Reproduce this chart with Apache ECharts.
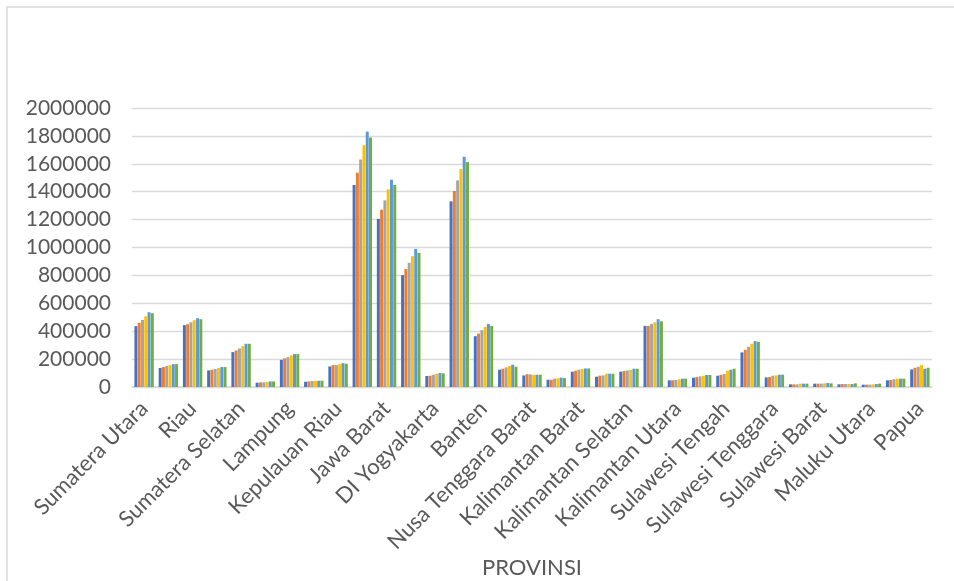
<!DOCTYPE html>
<html>
<head>
<meta charset="utf-8">
<script src="https://cdn.jsdelivr.net/npm/echarts@6/dist/echarts.min.js"></script>
<style>
html,body{margin:0;padding:0;background:#fff;}
#chart{width:954px;height:581px;}
</style>
</head>
<body>
<div id="chart"></div>
<script>
const provinces = ["Sumatera Utara","Sumatera Barat","Riau","Jambi","Sumatera Selatan","Bengkulu","Lampung","Kepulauan Bangka Belitung","Kepulauan Riau","DKI Jakarta","Jawa Barat","Jawa Tengah","DI Yogyakarta","Jawa Timur","Banten","Bali","Nusa Tenggara Barat","Nusa Tenggara Timur","Kalimantan Barat","Kalimantan Tengah","Kalimantan Selatan","Kalimantan Timur","Kalimantan Utara","Sulawesi Utara","Sulawesi Tengah","Sulawesi Selatan","Sulawesi Tenggara","Gorontalo","Sulawesi Barat","Maluku","Maluku Utara","Papua Barat","Papua"];
const seriesNames = ["2015","2016","2017","2018","2019","2020"];
const s1 = [436000,136000,443000,119000,250000,31000,195000,38000,148000,1448000,1205000,802000,79000,1331000,364000,124000,83000,52000,110000,74000,110000,438000,48000,67000,81000,248000,69000,19000,24000,19000,17000,48000,126000];
const s2 = [460000,143000,450000,124000,262000,33000,205000,40000,157000,1536000,1271000,845000,81000,1405000,383000,131000,92000,52000,117000,81000,114000,438000,48000,71000,88000,267000,71000,19000,24000,21000,17000,50000,138000];
const s3 = [481000,150000,464000,129000,276000,33000,214000,43000,157000,1631000,1338000,890000,88000,1481000,407000,140000,90000,60000,124000,83000,119000,452000,50000,76000,93000,288000,81000,19000,24000,21000,17000,55000,145000];
const s4 = [507000,157000,479000,136000,293000,36000,226000,43000,164000,1733000,1417000,938000,95000,1562000,431000,150000,86000,62000,129000,95000,124000,464000,55000,81000,117000,310000,83000,24000,26000,21000,19000,60000,157000];
const s5 = [536000,164000,493000,143000,310000,40000,236000,45000,171000,1831000,1486000,990000,100000,1650000,452000,160000,88000,67000,133000,95000,131000,486000,60000,86000,124000,329000,88000,24000,29000,21000,21000,60000,131000];
const s6 = [529000,164000,486000,143000,310000,40000,236000,45000,167000,1788000,1448000,962000,98000,1612000,438000,145000,88000,64000,133000,95000,131000,471000,60000,86000,131000,324000,88000,24000,26000,26000,24000,60000,138000];
const yTicks = [0,200000,400000,600000,800000,1000000,1200000,1400000,1600000,1800000,2000000];
const xAxisTitle = "PROVINSI";

const colors = ["#4472C4","#ED7D31","#A5A5A5","#FFC000","#5B9BD5","#70AD47"];
const allSeries = [s1,s2,s3,s4,s5,s6];
const font = "Lato, 'Open Sans', sans-serif";

const chart = echarts.init(document.getElementById('chart'), null, {renderer:'canvas'});
chart.setOption({
  animation:false,
  backgroundColor:'#fff',
  color: colors,
  graphic:[{
    type:'rect', silent:true, z:-1,
    shape:{x:7, y:7, width:1000, height:1000},
    style:{fill:'none', stroke:'#D9D9D9', lineWidth:1.5}
  }],
  grid:{left:132, right:22, top:108, bottom:194, containLabel:false},
  xAxis:{
    type:'category',
    data: provinces,
    name: xAxisTitle,
    nameLocation:'middle',
    nameGap:170,
    nameTextStyle:{fontFamily:font, fontSize:22, color:'#595959'},
    axisLine:{lineStyle:{color:'#D9D9D9', width:1.5}},
    axisTick:{show:false},
    axisLabel:{interval:1, rotate:45, margin:18, fontFamily:font, fontSize:22, color:'#595959'}
  },
  yAxis:{
    type:'value',
    min: yTicks[0],
    max: yTicks[yTicks.length-1],
    interval: yTicks[1]-yTicks[0],
    axisLine:{show:false},
    axisTick:{show:false},
    splitLine:{lineStyle:{color:'#D9D9D9', width:1.3}},
    axisLabel:{margin:21, fontFamily:font, fontSize:21, color:'#595959', padding:[0,0,16,0],
      formatter: v => String(v)}
  },
  series: allSeries.map((d,i)=>({
    name: seriesNames[i],
    type:'bar',
    data:d,
    barGap:'10%',
    barCategoryGap:'20%'
  }))
});
</script>
</body>
</html>
